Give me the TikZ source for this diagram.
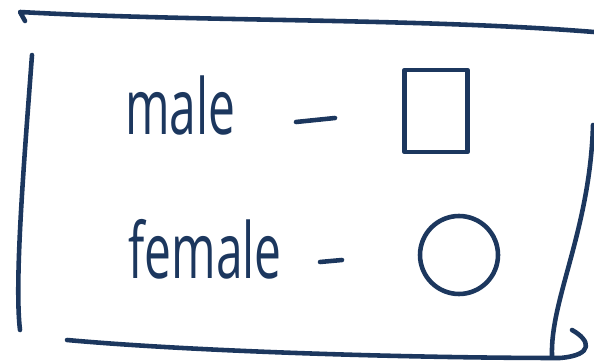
\documentclass[tikz,border=0pt]{standalone}
\usepackage{fontspec}
\setmainfont{Open Sans}
\usepackage{tikz}
\usetikzlibrary{positioning}
\definecolor{inkblue}{HTML}{1C375E}
\newcommand{\hand}[1]{\scalebox{0.62}[1]{#1}}
\tikzset{
  pen/.style={draw=inkblue, line width=2.6pt, line cap=round, line join=round},
  word/.style={text=inkblue, font=\fontsize{44}{50}\selectfont, inner sep=0pt, anchor=base west},
  malebox/.style={pen, rectangle, minimum width=1.26cm, minimum height=1.64cm, inner sep=0pt},
  femalering/.style={pen, circle, minimum size=1.56cm, inner sep=0pt}
}
\begin{document}
\begin{tikzpicture}[x=0.02cm, y=-0.02cm]
  \useasboundingbox (0,0) rectangle (594,364);
  % frame
  \draw[pen] (25,21) -- (20,12) .. controls (200,22) and (420,18) .. (594,32);
  \draw[pen] (32,55) .. controls (25,150) and (14,280) .. (20,330);
  \draw[pen] (67,340) .. controls (200,352) and (420,358) .. (560,358) .. controls (595,355) and (590,340) .. (572,330);
  \draw[pen] (593,125) .. controls (590,230) and (550,300) .. (552,356);
  % legend
  \node[word] (male) at (125,135) {\hand{male}};
  \node[word] (female) at (128,278) {\hand{female}};
  \coordinate (md1) at (296,122);
  \coordinate (md2) at (335,118);
  \coordinate (fd1) at (320,262);
  \coordinate (fd2) at (342,260);
  \draw[pen] (md1) -- (md2);
  \draw[pen] (fd1) -- (fd2);
  \node[malebox] (square) at (436,111) {};
  \node[femalering] (ring) at (459,255) {};
\end{tikzpicture}
\end{document}
